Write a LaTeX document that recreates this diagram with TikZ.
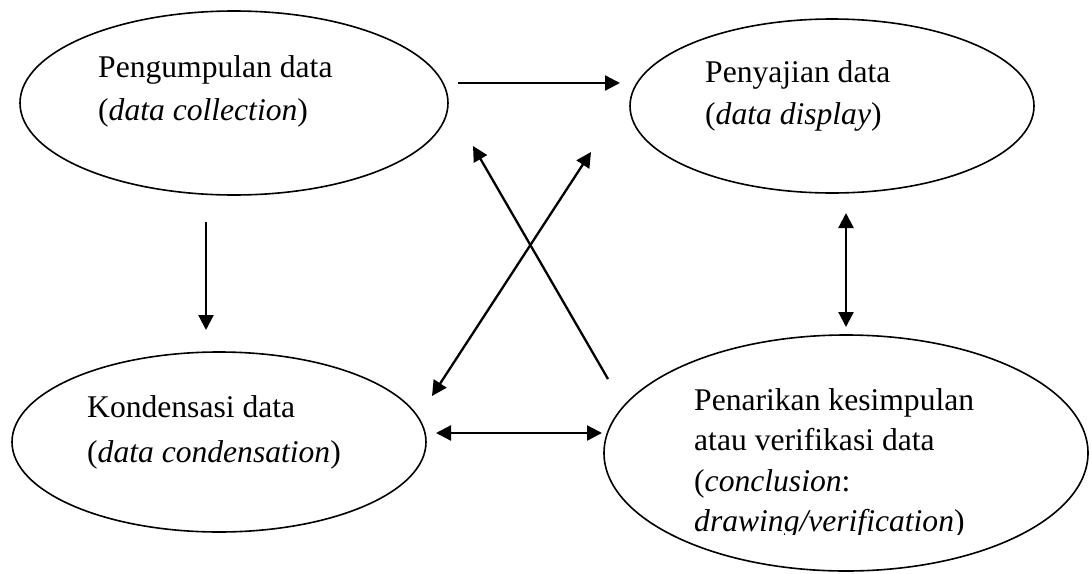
\documentclass[tikz,border=0pt]{standalone}
\usepackage{fontspec}
\setmainfont{Liberation Serif}
\usetikzlibrary{shapes.geometric,arrows.meta}
\begin{document}
\begin{tikzpicture}[x=1pt,y=-1pt,
  bubble/.style={draw,ellipse,line width=1.6pt,inner sep=0pt},
  txt/.style={anchor=base west,inner sep=0pt,font=\fontsize{31.6}{40}\selectfont},
  tip/.tip={Triangle[length=15pt,width=15pt]},
  conn/.style={line width=2.3pt,-tip},
  dconn/.style={line width=2.3pt,tip-tip}]
\useasboundingbox (0,0) rectangle (1092,573);
% ellipses
\node[bubble,minimum width=428pt,minimum height=184pt] (collect) at (234,103) {};
\node[bubble,minimum width=404pt,minimum height=174pt] (display) at (832,106) {};
\node[bubble,minimum width=414pt,minimum height=180pt] (conden) at (219,442) {};
\node[bubble,minimum width=484pt,minimum height=236pt] (concl) at (846,453) {};
% texts
\node[txt] (t1a) at (98,77) {Pengumpulan data};
\node[txt] (t1b) at (98,120) {(\textit{data collection})};
\node[txt] (t2a) at (705,82) {Penyajian data};
\node[txt] (t2b) at (705,124) {(\textit{data display})};
\node[txt] (t3a) at (87,417) {Kondensasi data};
\node[txt] (t3b) at (87,462) {(\textit{data condensation})};
\begin{scope}
\clip (600,330) rectangle (1092,534);
\node[txt] (t4a) at (694,410) {Penarikan kesimpulan};
\node[txt] (t4b) at (694,450.5) {atau verifikasi data};
\node[txt] (t4c) at (694,491) {(\textit{conclusion}:};
\node[txt] (t4d) at (694,531) {\textit{drawing/verification})};
\end{scope}
% connector end points
\coordinate (a1s) at (458,83);  \coordinate (a1e) at (620,83);
\coordinate (a2s) at (206,222); \coordinate (a2e) at (206,330);
\coordinate (a3s) at (846,213); \coordinate (a3e) at (846,327);
\coordinate (a4s) at (436,433); \coordinate (a4e) at (602,433);
\coordinate (a5s) at (608,379); \coordinate (a5e) at (473,146);
\coordinate (a6s) at (591,152); \coordinate (a6e) at (432,396);
% connectors
\draw[conn] (a1s) -- (a1e);
\draw[conn] (a2s) -- (a2e);
\draw[dconn] (a3s) -- (a3e);
\draw[dconn] (a4s) -- (a4e);
\draw[conn] (a5s) -- (a5e);
\draw[dconn] (a6s) -- (a6e);
\end{tikzpicture}
\end{document}
